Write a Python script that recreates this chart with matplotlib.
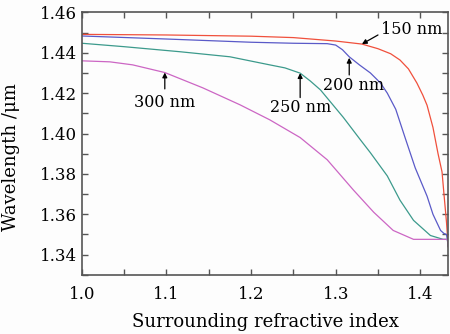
import matplotlib
matplotlib.use("Agg")
import matplotlib.pyplot as plt
from matplotlib.ticker import MultipleLocator

plt.rcParams['font.family'] = ['DejaVu Serif']
plt.rcParams['mathtext.fontset'] = 'dejavuserif'

# curve data (refractive index, wavelength in um)
x_150 = [1.0, 1.1, 1.2, 1.25, 1.3, 1.331, 1.35, 1.365, 1.376, 1.386, 1.396, 1.403,
         1.408, 1.415, 1.421, 1.4257, 1.428, 1.431, 1.433]
y_150 = [1.4491, 1.4488, 1.4482, 1.4475, 1.4458, 1.4443, 1.4420, 1.4395, 1.4364, 1.432,
         1.425, 1.419, 1.414, 1.403, 1.390, 1.381, 1.370, 1.356, 1.344]

x_200 = [1.0, 1.1, 1.2, 1.25, 1.29, 1.3, 1.308, 1.316, 1.328, 1.341, 1.353, 1.361, 1.371,
         1.382, 1.394, 1.408, 1.415, 1.424, 1.428, 1.431, 1.433]
y_200 = [1.4483, 1.4468, 1.4452, 1.4447, 1.4445, 1.4438, 1.4415, 1.438, 1.434, 1.430,
         1.425, 1.420, 1.412, 1.398, 1.383, 1.369, 1.360, 1.352, 1.3505, 1.350, 1.345]

x_250 = [1.0, 1.05, 1.116, 1.175, 1.222, 1.24, 1.258, 1.27, 1.282, 1.309, 1.329, 1.341,
         1.361, 1.376, 1.392, 1.412, 1.427, 1.432, 1.433]
y_250 = [1.4447, 1.4430, 1.4405, 1.438, 1.434, 1.4325, 1.4299, 1.426, 1.4216, 1.408,
         1.397, 1.3905, 1.379, 1.367, 1.357, 1.3495, 1.3476, 1.3476, 1.344]

x_300 = [1.0, 1.033, 1.06, 1.098, 1.143, 1.187, 1.222, 1.258, 1.29, 1.321, 1.345, 1.368,
         1.392, 1.41, 1.432, 1.433]
y_300 = [1.436, 1.4355, 1.4340, 1.4302, 1.4226, 1.4142, 1.4068, 1.398, 1.387, 1.372,
         1.361, 1.352, 1.3476, 1.3476, 1.3476, 1.344]

series = [(x_150, y_150, '#f0503c'),
          (x_200, y_200, '#5a5ac8'),
          (x_250, y_250, '#3c9a8c'),
          (x_300, y_300, '#cc66c4')]

# label, text position, arrow tail, arrow tip
labels = ['150 nm', '200 nm', '250 nm', '300 nm']
text_pos = [(1.390, 1.4513), (1.321, 1.4236), (1.2586, 1.4127), (1.0976, 1.4152)]
arrow_tail = [(1.350, 1.4488), (1.316, 1.429), (1.258, 1.4178), (1.098, 1.4221)]
arrow_tip = [(1.331, 1.4443), (1.316, 1.4375), (1.258, 1.4299), (1.098, 1.4302)]

fig = plt.figure(figsize=(4.5, 3.34), dpi=100)
fig.patch.set_facecolor('#fdfdfd')
ax = fig.add_axes([0.182, 0.177, 0.814, 0.786])
ax.set_facecolor('#fdfdfd')

for xs, ys, c in series:
    ax.plot(xs, ys, color=c, lw=0.9)

for lab, tp, tail, tip in zip(labels, text_pos, arrow_tail, arrow_tip):
    ax.text(tp[0], tp[1], lab, ha='center', va='center', fontsize=11.5)
    ax.annotate('', xy=tip, xytext=tail,
                arrowprops=dict(arrowstyle='-|>', color='black', lw=0.9,
                                mutation_scale=7, shrinkA=0, shrinkB=0))

ax.set_xlim(1.0, 1.433)
ax.set_ylim(1.33, 1.46)
ax.xaxis.set_major_locator(MultipleLocator(0.1))
ax.xaxis.set_minor_locator(MultipleLocator(0.05))
ax.yaxis.set_major_locator(MultipleLocator(0.02))
ax.yaxis.set_minor_locator(MultipleLocator(0.01))
ax.xaxis.set_major_formatter(lambda v, p: f'{v:.1f}')
ax.yaxis.set_major_formatter(lambda v, p: f'{v:.2f}')

ax.tick_params(which='both', direction='in', top=True, right=True,
               color='#555555', labelsize=12)
ax.tick_params(axis='x', pad=8)
ax.tick_params(which='major', length=4, width=1)
ax.tick_params(which='minor', length=4, width=1)
for s in ax.spines.values():
    s.set_color('#555555')
    s.set_linewidth(1.2)

ax.set_xlabel('Surrounding refractive index', fontsize=13, labelpad=7)
ax.set_ylabel('Wavelength /μm', fontsize=13)
ax.yaxis.set_label_coords(-0.17, 0.45)

fig.savefig('out.png', dpi=100, facecolor=fig.get_facecolor())
